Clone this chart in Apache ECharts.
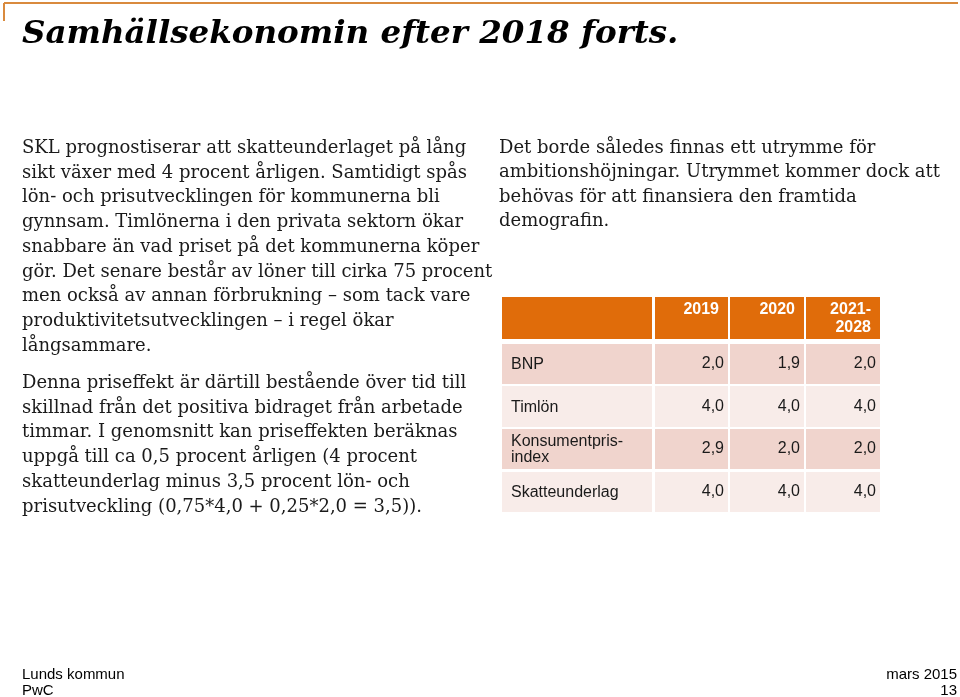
<!DOCTYPE HTML>
<html>
<head>
	<meta charset="utf-8">
	<script src="https://cdn.jsdelivr.net/npm/echarts@6/dist/echarts.min.js"></script>
	<title>Samhällsekonomin efter 2018 forts.</title>
	<style>
		html, body { margin: 0; padding: 0; background: #fff; }
		#main { width: 960px; height: 697px; }
	</style>
</head>
<body>
	<div id="main"></div>
	<script type="text/javascript">
		// tabellens data
		var rowNames = ['BNP', 'Timlön', 'Konsumentpris-\nindex', 'Skatteunderlag'];
		var periods = ['2019', '2020', '2021-\n2028'];
		var bnp = [2.0, 1.9, 2.0];
		var timlon = [4.0, 4.0, 4.0];
		var kpi = [2.9, 2.0, 2.0];
		var skatteunderlag = [4.0, 4.0, 4.0];
		var rowValues = [bnp, timlon, kpi, skatteunderlag];

		var textLeft1 = [
			'SKL prognostiserar att skatteunderlaget på lång',
			'sikt växer med 4 procent årligen. Samtidigt spås',
			'lön- och prisutvecklingen för kommunerna bli',
			'gynnsam. Timlönerna i den privata sektorn ökar',
			'snabbare än vad priset på det kommunerna köper',
			'gör. Det senare består av löner till cirka 75 procent',
			'men också av annan förbrukning – som tack vare',
			'produktivitetsutvecklingen – i regel ökar',
			'långsammare.'
		];
		var textLeft2 = [
			'Denna priseffekt är därtill bestående över tid till',
			'skillnad från det positiva bidraget från arbetade',
			'timmar. I genomsnitt kan priseffekten beräknas',
			'uppgå till ca 0,5 procent årligen (4 procent',
			'skatteunderlag minus 3,5 procent lön- och',
			'prisutveckling (0,75*4,0 + 0,25*2,0 = 3,5)).'
		];
		var textRight = [
			'Det borde således finnas ett utrymme för',
			'ambitionshöjningar. Utrymmet kommer dock att',
			'behövas för att finansiera den framtida',
			'demografin.'
		];

		// cellgränser i tabellens eget koordinatsystem (px)
		var colEdges = [[0, 150], [153, 226], [228, 302], [304, 378]];
		var rowEdges = [[0, 42], [47, 87], [89, 130], [132, 172], [175, 215]];

		function fmt(v) {
			return v.toFixed(1).replace('.', ',');
		}

		var cells = [];
		cells.push({ value: [0, 0], text: '' });
		for (var c = 0; c < periods.length; c++) {
			cells.push({ value: [c + 1, 0], text: periods[c] });
		}
		for (var r = 0; r < rowNames.length; r++) {
			cells.push({ value: [0, r + 1], text: rowNames[r] });
			for (var c = 0; c < periods.length; c++) {
				cells.push({ value: [c + 1, r + 1], text: fmt(rowValues[r][c]) });
			}
		}

		var serif = '"DejaVu Serif", Georgia, serif';
		var sans = '"Liberation Sans", Arial, sans-serif';

		function renderCell(params, api) {
			var col = api.value(0);
			var row = api.value(1);
			var p0 = api.coord([colEdges[col][0], rowEdges[row][0]]);
			var p1 = api.coord([colEdges[col][1], rowEdges[row][1]]);
			var fill = row == 0 ? '#E06C0A' : (row % 2 == 1 ? '#F0D4CD' : '#F8ECE9');
			var txt = cells[params.dataIndex].text;
			var textEl;
			if (row == 0) {
				textEl = { type: 'text', style: { text: txt, x: p1[0] - 9, y: p0[1] + 4, align: 'right', verticalAlign: 'top', lineHeight: 18, font: 'bold 16px ' + sans, fill: '#fff' } };
			} else if (col == 0) {
				textEl = { type: 'text', style: { text: txt, x: p0[0] + 9, y: (p0[1] + p1[1]) / 2 + 1, align: 'left', verticalAlign: 'middle', lineHeight: 16, font: '16px ' + sans, fill: '#1a1a1a' } };
			} else {
				textEl = { type: 'text', style: { text: txt, x: p1[0] - 4, y: (p0[1] + p1[1]) / 2, align: 'right', verticalAlign: 'middle', font: '16px ' + sans, fill: '#1a1a1a' } };
			}
			return {
				type: 'group',
				children: [
					{ type: 'rect', shape: { x: p0[0], y: p0[1], width: p1[0] - p0[0], height: p1[1] - p0[1] }, style: { fill: fill } },
					textEl
				]
			};
		}

		var myChart = echarts.init(document.getElementById('main'));
		var option = {
			backgroundColor: '#fff',
			animation: false,
			grid: { left: 502, top: 297, width: 378, height: 215 },
			xAxis: { type: 'value', min: 0, max: 378, show: false },
			yAxis: { type: 'value', min: 0, max: 215, inverse: true, show: false },
			graphic: [
				{ type: 'line', shape: { x1: 4, y1: 3, x2: 958, y2: 3 }, style: { stroke: '#D98A3D', lineWidth: 2 } },
				{ type: 'line', shape: { x1: 4, y1: 3, x2: 4, y2: 21 }, style: { stroke: '#D98A3D', lineWidth: 2 } },
				{ type: 'text', style: { text: 'Samhällsekonomin efter 2018 forts.', x: 22, y: 35, verticalAlign: 'middle', font: 'italic bold 32.5px ' + serif, fill: '#000' } },
				{ type: 'text', style: { text: textLeft1.join('\n'), x: 22, y: 136, verticalAlign: 'top', lineHeight: 24.7, font: '18px ' + serif, fill: '#1a1a1a' } },
				{ type: 'text', style: { text: textLeft2.join('\n'), x: 22, y: 371, verticalAlign: 'top', lineHeight: 24.7, font: '18px ' + serif, fill: '#1a1a1a' } },
				{ type: 'text', style: { text: textRight.join('\n'), x: 499, y: 136, verticalAlign: 'top', lineHeight: 24.5, font: '18px ' + serif, fill: '#1a1a1a' } },
				{ type: 'text', style: { text: 'Lunds kommun', x: 22, y: 675, verticalAlign: 'middle', font: '15px ' + sans, fill: '#000' } },
				{ type: 'text', style: { text: 'PwC', x: 22, y: 691, verticalAlign: 'middle', font: '15px ' + sans, fill: '#000' } },
				{ type: 'text', style: { text: 'mars 2015', x: 957, y: 675, align: 'right', verticalAlign: 'middle', font: '15px ' + sans, fill: '#000' } },
				{ type: 'text', style: { text: '13', x: 957, y: 691, align: 'right', verticalAlign: 'middle', font: '15px ' + sans, fill: '#000' } }
			],
			series: [{
				type: 'custom',
				renderItem: renderCell,
				data: cells,
				silent: true
			}]
		};
		myChart.setOption(option);
	</script>
</body>
</html>
